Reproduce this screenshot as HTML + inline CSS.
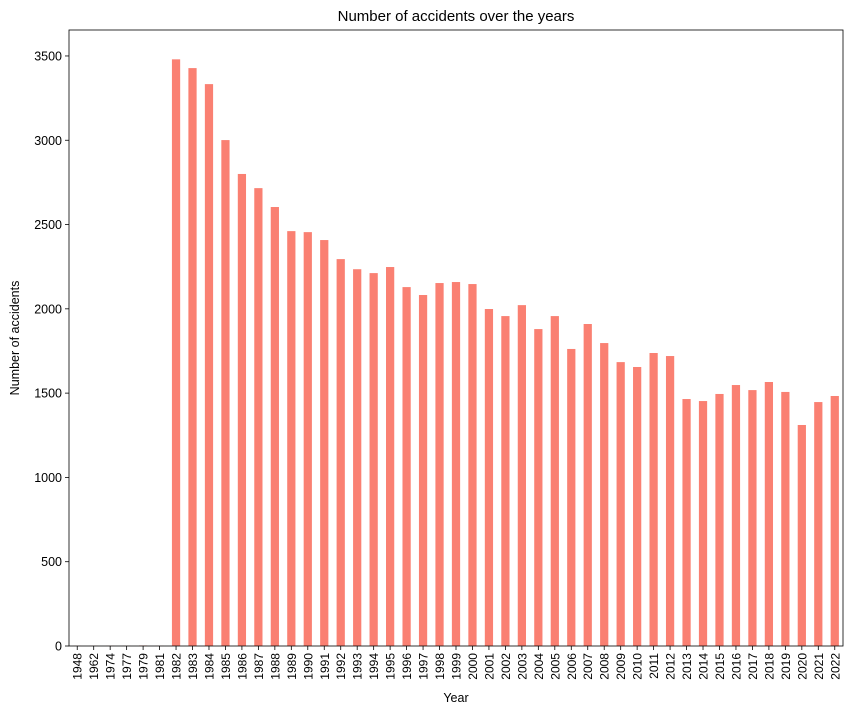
<!DOCTYPE html>
<html><head><meta charset="utf-8"><style>
html,body{margin:0;padding:0;background:#fff;}
svg{display:block;font-family:"Liberation Sans",Arial,sans-serif;}
</style></head><body>
<svg id="chart" width="853" height="714" viewBox="0 0 853 714"></svg>
<script>
const categories=["1948","1962","1974","1977","1979","1981","1982","1983","1984","1985","1986","1987","1988","1989","1990","1991","1992","1993","1994","1995","1996","1997","1998","1999","2000","2001","2002","2003","2004","2005","2006","2007","2008","2009","2010","2011","2012","2013","2014","2015","2016","2017","2018","2019","2020","2021","2022"];
const accidents=[1,1,1,1,3,1,3480,3428,3333,3001,2800,2716,2604,2461,2455,2408,2295,2235,2212,2248,2129,2082,2153,2159,2147,1999,1957,2022,1880,1957,1762,1910,1797,1684,1655,1738,1720,1465,1453,1495,1548,1518,1566,1507,1311,1447,1483];
const yTicks=[0,500,1000,1500,2000,2500,3000,3500];

const NS="http://www.w3.org/2000/svg";
const svg=document.getElementById('chart');
const L=69,R=843,T=30,B=646;
const yMax=3654;
const n=categories.length;
const step=(R-L)/n;
function xScale(i){return L+(i+0.5)*step;}
function yScale(v){return B-(v/yMax)*(B-T);}
function mk(tag,attrs,text){const e=document.createElementNS(NS,tag);for(const k in attrs)e.setAttribute(k,attrs[k]);if(text!==undefined)e.textContent=text;svg.appendChild(e);return e;}

categories.forEach((c,i)=>{
  const v=accidents[i];
  const b=mk('rect',{x:xScale(i)-step*0.25,y:yScale(v),width:step*0.5,height:B-yScale(v),fill:'#FA8072'});
  
  
  const t=mk('line',{x1:xScale(i),x2:xScale(i),y1:B,y2:B+4,stroke:'#000','stroke-width':0.8});
  
  
  const lx=xScale(i)+4.5, ly=B+7;
  const lb=mk('text',{x:lx,y:ly,'font-size':12,'text-anchor':'end',transform:`rotate(-90 ${lx} ${ly})`},c);
  
  
});
yTicks.forEach(v=>{
  const y=yScale(v);
  const t=mk('line',{x1:L-4,x2:L,y1:y,y2:y,stroke:'#000','stroke-width':0.8});
  
  
  const lb=mk('text',{x:L-7,y:y+4.5,'font-size':12.5,'text-anchor':'end'},String(v));
  
  
});
const fr=mk('rect',{x:L,y:T,width:R-L,height:B-T,fill:'none',stroke:'#000','stroke-width':0.8});


const ti=mk('text',{x:(L+R)/2,y:21,'font-size':15,'text-anchor':'middle'},'Number of accidents over the years');


const xl=mk('text',{x:(L+R)/2,y:702,'font-size':12.5,'text-anchor':'middle'},'Year');


const yl=mk('text',{x:19,y:(T+B)/2,'font-size':12.5,'text-anchor':'middle',transform:`rotate(-90 19 ${(T+B)/2})`},'Number of accidents');


</script>
</body></html>
